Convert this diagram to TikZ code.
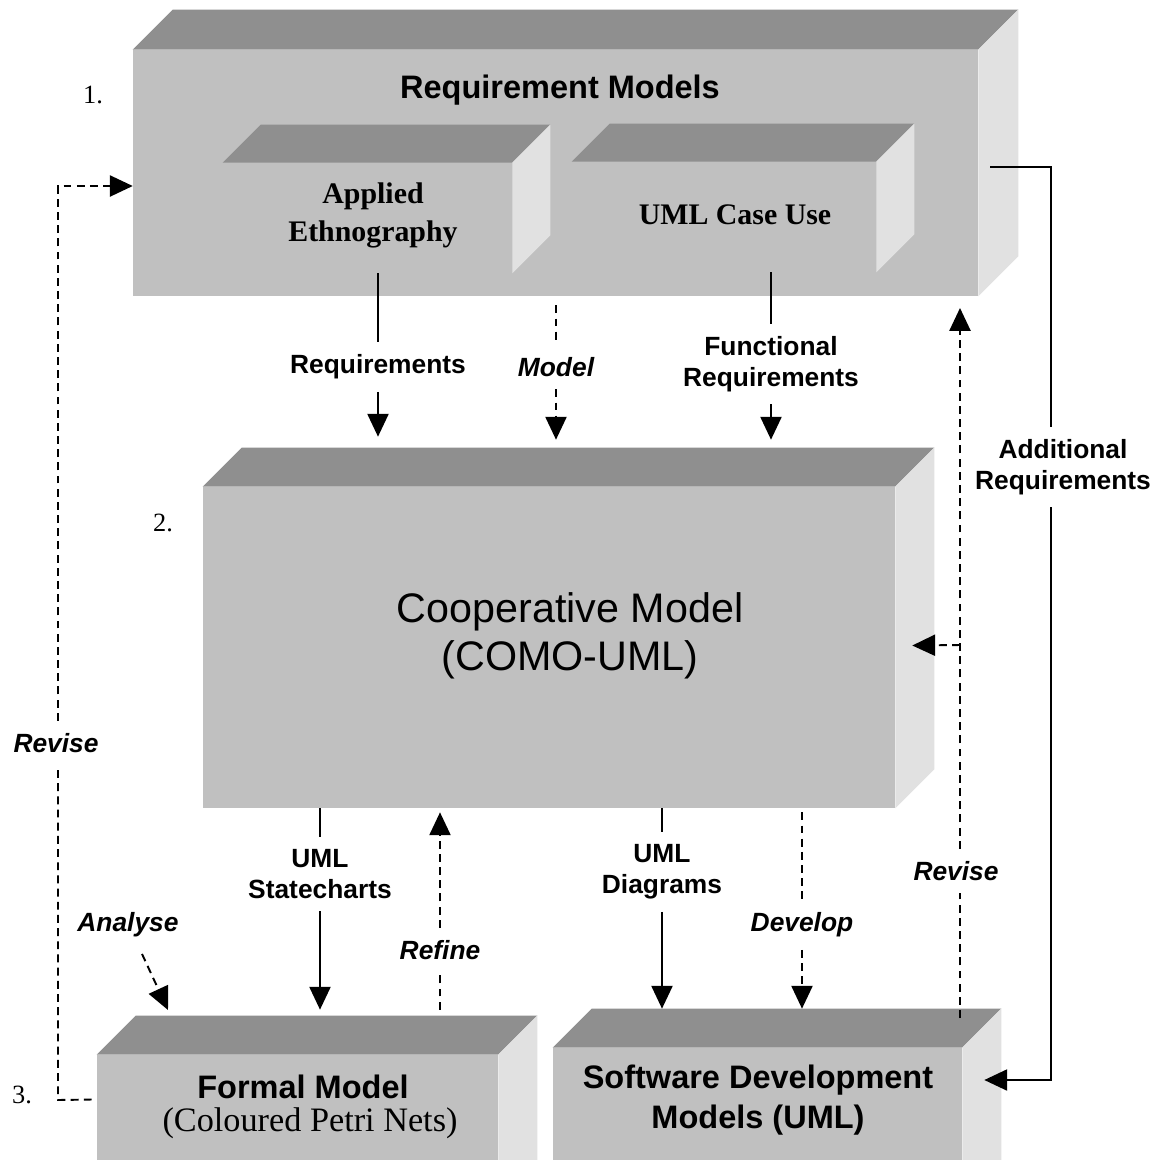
\documentclass[tikz,border=0pt]{standalone}
\usepackage{fontspec}
\setmainfont{Liberation Serif}
\setsansfont{Liberation Sans}
\usetikzlibrary{arrows.meta, calc}
\definecolor{facegray}{HTML}{C0C0C0}
\definecolor{topgray}{HTML}{8F8F8F}
\definecolor{sidegray}{HTML}{E1E1E1}

% top and right faces of a 3D slab
\newcommand{\extrude}[2]{%
  \fill[topgray] (#1.north west) -- ++(#2,-#2) -- ($(#1.north east)+(#2,-#2)$) -- (#1.north east) -- cycle;
  \fill[sidegray] (#1.north east) -- ($(#1.north east)+(#2,-#2)$) -- ($(#1.south east)+(#2,-#2)$) -- (#1.south east) -- cycle;
}

\begin{document}
\begin{tikzpicture}[
  x=0.02cm, y=-0.02cm,
  >={Triangle[length=13pt, width=12pt]},
  slab/.style={fill=facegray, inner sep=0pt},
  lbl/.style={font=\fontsize{15}{17.5}\selectfont\sffamily\bfseries, align=center,
    inner xsep=2pt, inner ysep=7pt},
  ilbl/.style={lbl, font=\fontsize{15}{17.5}\selectfont\sffamily\bfseries\itshape},
  num/.style={font=\fontsize{15}{17}\selectfont},
  link/.style={line width=1.1pt},
  dlink/.style={link, dash pattern=on 4.5pt off 3pt},
]

\useasboundingbox (0,0) rectangle (1159,1160);
\clip (0,0) rectangle (1159,1160);
\fill[white] (0,0) rectangle (1159,1160);

% Slabs
\node[slab, minimum width=16.9cm, minimum height=4.92cm] (req) at (555.5,173) {};
\extrude{req}{40}
\node[slab, minimum width=5.78cm, minimum height=2.2cm] (appl) at (367.5,218) {};
\extrude{appl}{38}
\node[slab, minimum width=6.08cm, minimum height=2.2cm] (ucu) at (724,217) {};
\extrude{ucu}{38}
\node[slab, minimum width=13.84cm, minimum height=6.42cm] (coop) at (549,647.5) {};
\extrude{coop}{39}
\node[slab, minimum width=8.02cm, minimum height=2.9cm] (formal) at (297.5,1127.5) {};
\extrude{formal}{39}
\node[slab, minimum width=8.18cm, minimum height=3.04cm] (soft) at (757.5,1124) {};
\extrude{soft}{39}

% Slab texts
\node[font=\fontsize{18.5}{20}\selectfont\sffamily\bfseries] (reqtxt) at (560,90) {Requirement Models};
\node[font=\fontsize{17}{21.6}\selectfont\bfseries, align=center] (appltxt) at (373,215)
  {Applied\\Ethnography};
\node[font=\fontsize{17}{20}\selectfont\bfseries] (ucutxt) at (735,215) {UML Case Use};
\node[font=\fontsize{23.5}{27}\selectfont\sffamily, align=center] (cooptxt) at (570,636)
  {Cooperative Model\\(COMO-UML)};
\node[font=\fontsize{18.5}{20}\selectfont\sffamily\bfseries] (formaltxt) at (303,1087) {Formal Model};
\node[font=\fontsize{19.5}{21}\selectfont] (formalsub) at (310,1123) {(Coloured Petri Nets)};
\node[font=\fontsize{18.5}{22.8}\selectfont\sffamily\bfseries, align=center] (softtxt) at (758,1100)
  {Software Development\\Models (UML)};

% Level numbers
\node[num] (one) at (93,95) {1.};
\node[num] (two) at (163,523) {2.};
\node[num] (three) at (22,1095) {3.};

% Requirements
\node[lbl] (reqlbl) at (378,367) {Requirements};
\draw[link] (reqlbl |- appl.south) -- (reqlbl.north);
\draw[link,->] (reqlbl.south) -- ($(reqlbl |- coop.north)+(0,-50)$);

% Model
\node[ilbl] (mdllbl) at (556,367) {Model};
\draw[dlink] ($(mdllbl |- req.south)+(0,9)$) -- (mdllbl.north);
\draw[dlink,->] (mdllbl.south) -- ($(mdllbl |- coop.north)+(0,-47)$);

% Functional requirements
\node[lbl] (funlbl) at (771,364) {Functional\\Requirements};
\draw[link] (funlbl |- ucu.south) -- (funlbl.north);
\draw[link,->] (funlbl.south) -- ($(funlbl |- coop.north)+(0,-47)$);

% Additional requirements
\coordinate (addstart) at ($(req.east)+(12,-6)$);
\coordinate (addturn) at (1051,167);
\coordinate (addend) at ($(soft.east)+(22,-44)$);
\node[lbl] (addlbl) at (1063,467) {Additional\\Requirements};
\draw[link] (addstart) -- (addturn) -- (addturn |- addlbl.north);
\draw[link,->] (addturn |- addlbl.south) |- (addend);

% Revise (right)
\coordinate (revbot) at (960,1018);
\coordinate (revtop) at (960,308);
\coordinate (revfork) at (960,645);
\node[ilbl] (revrlbl) at (956,871) {Revise};
\draw[dlink] (revbot) -- (revbot |- revrlbl.south);
\draw[dlink,->] (revbot |- revrlbl.north) -- (revtop);
\draw[dlink,->] (revfork) -- ($(coop.east)+(17,-2)$);

% Revise (left)
\coordinate (revlstart) at ($(formal.west)+(-5,-28)$);
\coordinate (revlbot) at (58,1100);
\coordinate (revltop) at (58,186);
\node[ilbl] (revllbl) at (56,743) {Revise};
\draw[dlink] (revlstart) -- (revlbot) -- (revlbot |- revllbl.south);
\draw[dlink,->] (revltop |- revllbl.north) -- (revltop) -- (req.west |- revltop);

% Analyse
\coordinate (anltip) at (168,1010);
\node[ilbl] (anllbl) at (128,925) {Analyse};
\draw[dlink,->] ($(anllbl.south)+(14,4)$) -- (anltip);

% UML statecharts
\node[lbl] (stlbl) at (320,874) {UML\\Statecharts};
\draw[link] (stlbl |- coop.south) -- (stlbl.north);
\draw[link,->] (stlbl.south) -- ($(stlbl |- formal.north)+(0,-45)$);

% Refine
\node[ilbl] (reflbl) at (440,950) {Refine};
\draw[dlink] ($(reflbl |- formal.north)+(0,-45)$) -- (reflbl.south);
\draw[dlink,->] (reflbl.north) -- ($(reflbl |- coop.south)+(0,4)$);

% UML diagrams
\node[lbl] (dglbl) at (662,872) {UML\\Diagrams};
\draw[link] (dglbl |- coop.south) -- (dglbl.north);
\draw[link,->] (dglbl.south) -- ($(dglbl |- soft.north)+(0,-39)$);

% Develop
\node[ilbl] (devlbl) at (802,925) {Develop};
\draw[dlink] ($(devlbl |- coop.south)+(0,4)$) -- (devlbl.north);
\draw[dlink,->] (devlbl.south) -- ($(devlbl |- soft.north)+(0,-39)$);

\end{tikzpicture}
\end{document}
